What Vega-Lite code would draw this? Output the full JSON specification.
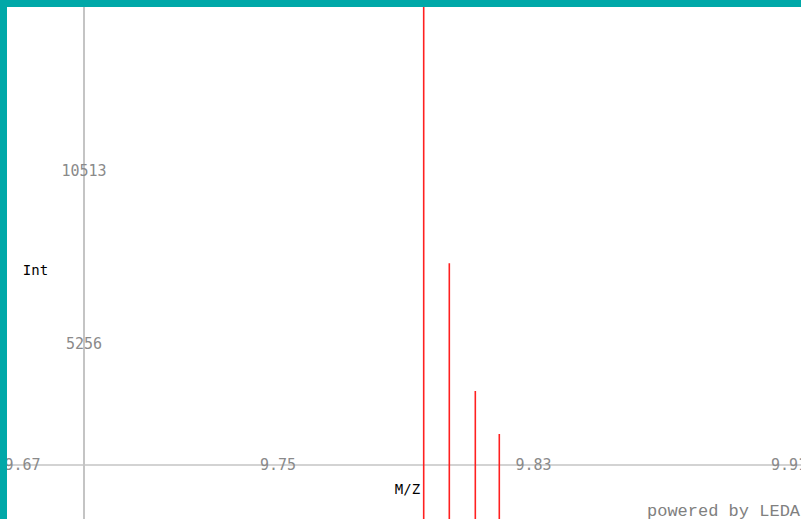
{
  "$schema": "https://vega.github.io/schema/vega-lite/v6.json",
  "autosize": {"type": "none"},
  "width": 794,
  "height": 512,
  "padding": {"left": 7, "top": 7, "right": 0, "bottom": 0},
  "background": "#00a8a8",
  "config": {"view": {"fill": "#ffffff", "stroke": null}},
  "datasets": {
    "peaks": [
      {"mz": 9.79562, "int": 15770},
      {"mz": 9.80364, "int": 7709},
      {"mz": 9.81178, "int": 3829},
      {"mz": 9.81929, "int": 2522}
    ],
    "xticks": [
      {"mz": 9.67, "label": "9.67"},
      {"mz": 9.75, "label": "9.75"},
      {"mz": 9.83, "label": "9.83"},
      {"mz": 9.91, "label": "9.91"}
    ],
    "yticks": [
      {"int": 10513, "label": "10513"},
      {"int": 5256, "label": "5256"}
    ],
    "titles": [
      {"mz": 9.67407, "int": 7475, "label": "Int"},
      {"mz": 9.79055, "int": 820, "label": "M/Z"}
    ],
    "credit": [
      {"mz": 9.86554, "int": 182, "label": "powered by LEDA"}
    ]
  },
  "encoding": {
    "x": {"type": "quantitative", "scale": {"domain": [9.665147, 9.913757], "nice": false, "zero": false}, "axis": null},
    "y": {"type": "quantitative", "scale": {"domain": [-61, 15497], "nice": false, "zero": false}, "axis": null}
  },
  "layer": [
    {
      "data": {"values": [{"v": 9.689256}]},
      "mark": {"type": "rule", "color": "#c4c4c4", "strokeWidth": 2},
      "encoding": {"x": {"field": "v", "type": "quantitative"}}
    },
    {
      "data": {"values": [{"v": 1577}]},
      "mark": {"type": "rule", "color": "#c4c4c4", "strokeWidth": 1.5},
      "encoding": {"y": {"field": "v", "type": "quantitative"}}
    },
    {
      "data": {"name": "peaks"},
      "mark": {"type": "rule", "color": "#ff2020", "strokeWidth": 1.6, "clip": true},
      "encoding": {
        "x": {"field": "mz", "type": "quantitative"},
        "y": {"field": "int", "type": "quantitative"},
        "y2": {"datum": -500}
      }
    },
    {
      "data": {"name": "xticks"},
      "mark": {"type": "text", "color": "#8a8a8a", "font": "DejaVu Sans Mono", "fontSize": 15, "align": "center", "baseline": "middle", "clip": true},
      "encoding": {
        "x": {"field": "mz", "type": "quantitative"},
        "y": {"datum": 1577},
        "text": {"field": "label"}
      }
    },
    {
      "data": {"name": "yticks"},
      "mark": {"type": "text", "color": "#8a8a8a", "font": "DejaVu Sans Mono", "fontSize": 15, "align": "center", "baseline": "middle", "clip": true},
      "encoding": {
        "x": {"datum": 9.689256},
        "y": {"field": "int", "type": "quantitative"},
        "text": {"field": "label"}
      }
    },
    {
      "data": {"name": "titles"},
      "mark": {"type": "text", "color": "#000000", "font": "DejaVu Sans Mono", "fontSize": 14, "align": "center", "baseline": "middle", "clip": true},
      "encoding": {
        "x": {"field": "mz", "type": "quantitative"},
        "y": {"field": "int", "type": "quantitative"},
        "text": {"field": "label"}
      }
    },
    {
      "data": {"name": "credit"},
      "mark": {"type": "text", "color": "#808080", "font": "Liberation Mono", "fontSize": 17, "align": "left", "baseline": "middle", "clip": true},
      "encoding": {
        "x": {"field": "mz", "type": "quantitative"},
        "y": {"field": "int", "type": "quantitative"},
        "text": {"field": "label"}
      }
    }
  ]
}
